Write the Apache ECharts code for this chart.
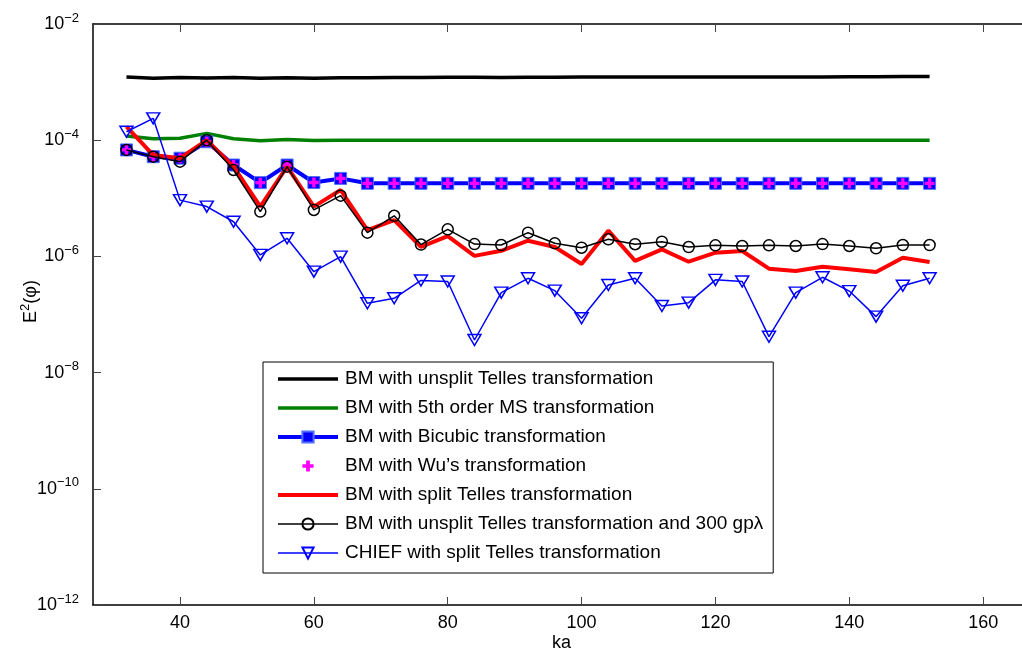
<!DOCTYPE html>
<html><head><meta charset="utf-8">
<script src="https://cdn.jsdelivr.net/npm/echarts@6/dist/echarts.min.js"></script>
<style>html,body{margin:0;padding:0;background:#fff}#c{width:1022px;height:652px}</style>
</head><body><div id="c"></div>
<script>
const ka = [32,36,40,44,48,52,56,60,64,68,72,76,80,84,88,92,96,100,104,108,112,116,120,124,128,132,136,140,144,148,152];
const xTicks = [40,60,80,100,120,140,160];
const names = [
  'BM with unsplit Telles transformation',
  'BM with 5th order MS transformation',
  'BM with Bicubic transformation',
  'BM with Wu\u2019s transformation',
  'BM with split Telles transformation',
  'BM with unsplit Telles transformation and 300 gp\u03bb',
  'CHIEF with split Telles transformation'
];
const unsplitTelles = [1.22e-3,1.17e-3,1.2e-3,1.18e-3,1.2e-3,1.16e-3,1.19e-3,1.17e-3,1.19e-3,1.19e-3,1.2e-3,1.2e-3,1.21e-3,1.21e-3,1.2e-3,1.21e-3,1.21e-3,1.22e-3,1.22e-3,1.22e-3,1.22e-3,1.22e-3,1.22e-3,1.23e-3,1.23e-3,1.23e-3,1.23e-3,1.24e-3,1.24e-3,1.25e-3,1.25e-3];
const ms5 = [1.18e-4,1.06e-4,1.08e-4,1.31e-4,1.06e-4,9.8e-5,1.03e-4,9.9e-5,1.0e-4,1.0e-4,1.0e-4,1.0e-4,1.0e-4,1.0e-4,1.0e-4,1.0e-4,1.0e-4,1.0e-4,1.0e-4,1.0e-4,1.0e-4,1.0e-4,1.0e-4,1.0e-4,1.0e-4,1.0e-4,1.0e-4,1.0e-4,1.0e-4,1.0e-4,1.0e-4];
const bicubic = [6.8e-5,5.2e-5,4.9e-5,9.4e-5,3.74e-5,1.86e-5,3.74e-5,1.87e-5,2.2e-5,1.81e-5,1.81e-5,1.81e-5,1.81e-5,1.81e-5,1.81e-5,1.81e-5,1.81e-5,1.81e-5,1.81e-5,1.81e-5,1.81e-5,1.81e-5,1.81e-5,1.81e-5,1.81e-5,1.81e-5,1.81e-5,1.81e-5,1.81e-5,1.81e-5,1.81e-5];
const wu = [6.8e-5,5.2e-5,4.9e-5,9.4e-5,3.74e-5,1.86e-5,3.74e-5,1.87e-5,2.2e-5,1.81e-5,1.81e-5,1.81e-5,1.81e-5,1.81e-5,1.81e-5,1.81e-5,1.81e-5,1.81e-5,1.81e-5,1.81e-5,1.81e-5,1.81e-5,1.81e-5,1.81e-5,1.81e-5,1.81e-5,1.81e-5,1.81e-5,1.81e-5,1.81e-5,1.81e-5];
const splitTelles = [1.71e-4,5.56e-5,4.9e-5,1.0e-4,3.5e-5,7.2e-6,3.5e-5,7.2e-6,1.39e-5,2.84e-6,4.2e-6,1.46e-6,2.24e-6,1.02e-6,1.25e-6,1.86e-6,1.45e-6,7.4e-7,2.77e-6,8.4e-7,1.32e-6,8.1e-7,1.16e-6,1.24e-6,6.15e-7,5.6e-7,6.65e-7,6.0e-7,5.4e-7,9.5e-7,8.0e-7];
const unsplit300 = [6.8e-5,5.2e-5,4.27e-5,1.0e-4,3.07e-5,5.9e-6,3.5e-5,6.3e-6,1.11e-5,2.56e-6,5.0e-6,1.6e-6,2.92e-6,1.63e-6,1.57e-6,2.56e-6,1.68e-6,1.41e-6,1.97e-6,1.62e-6,1.79e-6,1.45e-6,1.55e-6,1.51e-6,1.55e-6,1.51e-6,1.63e-6,1.51e-6,1.38e-6,1.57e-6,1.57e-6];
const chief = [1.40e-4,2.38e-4,9.3e-6,7.2e-6,3.95e-6,1.06e-6,2.05e-6,5.46e-7,9.9e-7,1.56e-7,1.9e-7,3.85e-7,3.7e-7,3.64e-8,2.38e-7,4.2e-7,2.57e-7,8.6e-8,3.22e-7,4.2e-7,1.4e-7,1.6e-7,3.95e-7,3.7e-7,4.15e-8,2.38e-7,4.37e-7,2.53e-7,9.2e-8,3.13e-7,4.2e-7];

const pts = arr => ka.map((x,i)=>[x, arr[i]]);
const FONT = '"Liberation Sans", Arial, Helvetica, sans-serif';
const plusPath = 'path://M3,0H6V3H9V6H6V9H3V6H0V3H3Z';
const NOFILL = 'rgba(0,0,0,0)';

const chart = echarts.init(document.getElementById('c'), null, {renderer:'canvas'});
chart.setOption({
  animation:false,
  backgroundColor:'#fff',
  textStyle:{fontFamily:FONT},
  grid:{left:93, right:-8, top:24, bottom:47, containLabel:false, outerBoundsMode:'none'},
  xAxis:[{
    type:'value', min:27, max:167, position:'bottom',
    name:'ka', nameLocation:'middle', nameGap:29, nameMoveOverlap:false,
    nameTextStyle:{fontSize:18, color:'#000', fontFamily:FONT},
    axisLine:{lineStyle:{color:'#000', width:1.5}},
    axisTick:{inside:true, length:8, customValues:xTicks, lineStyle:{color:'#444', width:1}},
    axisLabel:{customValues:xTicks, fontSize:18, color:'#000', margin:9, fontFamily:FONT},
    splitLine:{show:false}
  },{
    type:'value', min:27, max:167, position:'top',
    axisLine:{lineStyle:{color:'#000', width:1.5}},
    axisTick:{inside:true, length:8, customValues:xTicks, lineStyle:{color:'#444', width:1}},
    axisLabel:{show:false}, splitLine:{show:false}
  }],
  yAxis:[{
    type:'log', logBase:100, min:1e-12, max:1e-2, position:'left',
    name:'{b|E}{s|2}{b|(\u03c6)}', nameLocation:'middle', nameGap:49, nameMoveOverlap:false,
    nameTextStyle:{color:'#000', padding:[0,0,0,26], rich:{b:{fontSize:18, fontFamily:FONT, color:'#000'}, s:{fontSize:13, fontFamily:FONT, color:'#000', padding:[0,0,12,0]}}},
    axisLine:{lineStyle:{color:'#000', width:1.5}},
    axisTick:{inside:true, length:8, lineStyle:{color:'#444', width:1}},
    minorTick:{show:false},
    splitLine:{show:false},
    axisLabel:{
      margin:14, color:'#000',
      formatter: v => '{b|10}{s|\u2212' + Math.abs(Math.round(Math.log10(v))) + '}',
      rich:{b:{fontSize:18, fontFamily:FONT, color:'#000'}, s:{fontSize:13, fontFamily:FONT, color:'#000', padding:[0,0,12,0]}}
    }
  },{
    type:'log', logBase:100, min:1e-12, max:1e-2, position:'right',
    axisLine:{lineStyle:{color:'#000', width:1.5}},
    axisTick:{inside:true, length:8}, axisLabel:{show:false}, splitLine:{show:false}
  }],
  legend:{
    orient:'vertical', left:263, top:362,
    backgroundColor:'#fff', borderColor:'#000', borderWidth:1,
    padding:[7,10,10,13],
    itemWidth:60, itemHeight:14, itemGap:9,
    lineStyle:{width:'inherit'},
    textStyle:{fontSize:19, color:'#000', fontFamily:FONT, lineHeight:20, padding:[0,0,0,2]},
    data:names
  },
  series:[
    {name:names[0], type:'line', data:pts(unsplitTelles), symbol:'none', lineStyle:{color:'#000', width:3.5}, itemStyle:{color:NOFILL}, z:2},
    {name:names[1], type:'line', data:pts(ms5), symbol:'none', lineStyle:{color:'#008000', width:3.5}, itemStyle:{color:NOFILL}, z:2},
    {name:names[2], type:'line', data:pts(bicubic), symbol:'rect', symbolSize:12, lineStyle:{color:'#0000ff', width:4}, itemStyle:{color:'#0000ff', borderColor:'#5070ff', borderWidth:1}, z:3},
    {name:names[3], type:'line', data:pts(wu), symbol:plusPath, symbolSize:10, lineStyle:{width:0, opacity:0}, itemStyle:{color:'#ff00ff'}, z:4},
    {name:names[4], type:'line', data:pts(splitTelles), symbol:'none', lineStyle:{color:'#ff0000', width:4}, itemStyle:{color:NOFILL}, z:5},
    {name:names[5], type:'line', data:pts(unsplit300), symbol:'circle', symbolSize:11, lineStyle:{color:'#000', width:1.5}, itemStyle:{color:NOFILL, borderColor:'#000', borderWidth:1.5}, z:6},
    {name:names[6], type:'line', data:pts(chief), symbol:'triangle', symbolRotate:180, symbolSize:[13,11], lineStyle:{color:'#0000ff', width:1.5}, itemStyle:{color:NOFILL, borderColor:'#0000ff', borderWidth:1.5}, z:7}
  ]
});
</script></body></html>
